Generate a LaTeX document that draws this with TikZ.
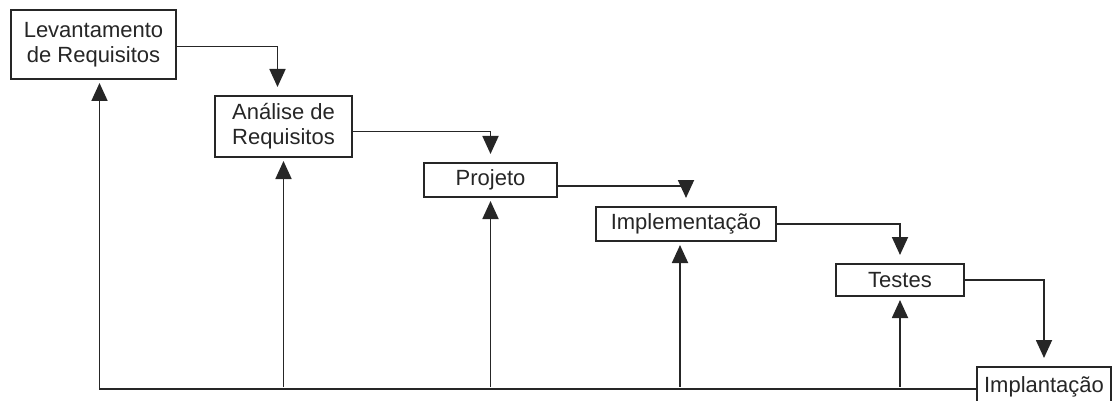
\documentclass[tikz,border=0pt]{standalone}
\usepackage{fontspec}
\setsansfont{Liberation Sans}
\usepackage{tikz}
\usetikzlibrary{arrows.meta,positioning,calc}

\begin{document}
\begin{tikzpicture}[
  x=1pt, y=-1pt,
  font=\sffamily\fontsize{22}{25}\selectfont,
  phase/.style={draw=black!85, line width=1.8pt, fill=white, text=black!85, align=center, inner sep=2pt, outer sep=0pt},
  fwd/.style={-{Triangle[width=16pt,length=18pt]}, line width=1.8pt, draw=black!85, shorten >=9pt},
  back/.style={-{Triangle[width=16pt,length=18pt]}, line width=1.8pt, draw=black!85, shorten >=4pt}
]
\useasboundingbox (0,0) rectangle (1113,401);
% ---------- phases ----------
\node[phase, minimum width=165pt, minimum height=69pt] (lev) at (93.5,44.5) {Levantamento\\de Requisitos};
\node[phase, minimum width=137pt, minimum height=61pt] (ana) at (283.5,126.5) {Análise de\\Requisitos};
\node[phase, minimum width=133pt, minimum height=34pt] (proj) at (490.5,180) {Projeto};
\node[phase, minimum width=180pt, minimum height=34pt] (impl) at (686,224) {Implementação};
\node[phase, minimum width=128pt, minimum height=32pt] (test) at (900,280) {Testes};
\node[phase, minimum width=134pt, minimum height=40pt] (impt) at (1044,387) {Implantação};
% ---------- forward flow ----------
\draw[fwd] ([yshift=-2pt]lev.east) -| ([xshift=-6pt]ana.north);
\draw[fwd] ([yshift=-5pt]ana.east) -| (proj.north);
\draw[fwd] ([yshift=-6pt]proj.east) -| (impl.north);
\draw[fwd] (impl.east) -| (test.north);
\draw[fwd] (test.east) -| (impt.north);
% ---------- feedback (bottom line) ----------
\draw[back] ([yshift=-2pt]impt.west) -| ([xshift=6pt]lev.south);
\draw[back] (ana.south |- impt.west) -- (ana.south);
\draw[back] (proj.south |- impt.west) -- (proj.south);
\draw[back] ([xshift=-6pt]impl.south |- impt.west) -- ([xshift=-6pt]impl.south);
\draw[back] (test.south |- impt.west) -- (test.south);
\end{tikzpicture}
\end{document}
